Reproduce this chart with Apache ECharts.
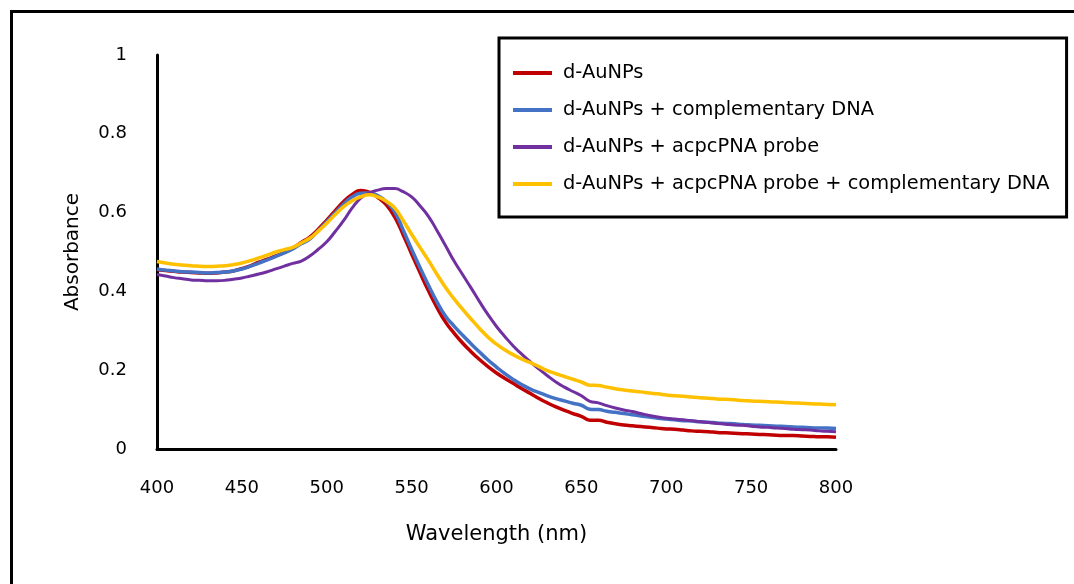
<!DOCTYPE html>
<html>
<head>
<meta charset="utf-8">
<script src="https://cdn.jsdelivr.net/npm/echarts@6/dist/echarts.min.js"></script>
<style>
  html, body { margin: 0; padding: 0; background: #fff; }
  #chart { width: 1074px; height: 584px; }
</style>
</head>
<body>
<div id="chart"></div>
<script>
// UV-Vis absorption spectra of gold nanoparticle samples, sampled every 5 nm from 400 to 800 nm
const wavelengths = [];
for (let w = 400; w <= 800; w += 5) wavelengths.push(w);

const seriesNames = [
  'd-AuNPs',
  'd-AuNPs + complementary DNA',
  'd-AuNPs + acpcPNA probe',
  'd-AuNPs + acpcPNA probe + complementary DNA'
];

const absAuNP = [
  0.455,0.453,0.451,0.449,0.448,0.447,0.446,0.447,0.449,0.452,
  0.458,0.465,0.474,0.482,0.490,0.499,0.510,0.524,0.538,0.558,
  0.581,0.605,0.628,0.646,0.656,0.652,0.639,0.620,0.589,0.544,
  0.495,0.447,0.401,0.359,0.322,0.294,0.269,0.247,0.227,0.209,
  0.193,0.179,0.166,0.153,0.141,0.128,0.117,0.107,0.098,0.090,
  0.083,0.073,0.073,0.068,0.064,0.061,0.059,0.057,0.055,0.053,
  0.051,0.050,0.048,0.046,0.045,0.044,0.042,0.041,0.040,0.039,
  0.038,0.037,0.036,0.035,0.034,0.034,0.033,0.032,0.031,0.031,
  0.030
];

const absAuNPDna = [
  0.457,0.454,0.452,0.450,0.449,0.448,0.447,0.448,0.449,0.452,
  0.457,0.464,0.472,0.480,0.489,0.498,0.508,0.521,0.533,0.554,
  0.577,0.600,0.622,0.640,0.649,0.650,0.643,0.628,0.602,0.556,
  0.507,0.460,0.415,0.373,0.337,0.312,0.289,0.267,0.246,0.226,
  0.208,0.191,0.176,0.163,0.152,0.143,0.135,0.128,0.122,0.116,
  0.111,0.101,0.100,0.096,0.093,0.090,0.087,0.084,0.081,0.078,
  0.076,0.074,0.072,0.071,0.069,0.068,0.066,0.065,0.064,0.062,
  0.061,0.060,0.059,0.058,0.057,0.056,0.055,0.054,0.053,0.053,
  0.052
];

const absAuNPProbe = [
  0.443,0.439,0.435,0.432,0.429,0.428,0.427,0.427,0.428,0.431,
  0.434,0.439,0.444,0.450,0.457,0.464,0.471,0.477,0.490,0.507,
  0.526,0.552,0.580,0.612,0.637,0.650,0.657,0.661,0.661,0.653,
  0.640,0.617,0.590,0.554,0.516,0.477,0.443,0.409,0.374,0.341,
  0.311,0.285,0.261,0.240,0.221,0.203,0.186,0.170,0.157,0.146,
  0.135,0.121,0.117,0.110,0.104,0.099,0.095,0.090,0.085,0.081,
  0.078,0.076,0.074,0.072,0.069,0.067,0.065,0.063,0.061,0.060,
  0.058,0.056,0.055,0.053,0.052,0.050,0.049,0.048,0.046,0.045,
  0.044
];

const absAuNPProbeDna = [
  0.476,0.472,0.469,0.467,0.465,0.464,0.463,0.464,0.465,0.468,
  0.472,0.478,0.485,0.492,0.500,0.506,0.512,0.523,0.535,0.553,
  0.573,0.595,0.615,0.630,0.640,0.645,0.640,0.629,0.612,0.580,
  0.545,0.511,0.478,0.443,0.410,0.381,0.355,0.330,0.306,0.284,
  0.266,0.251,0.239,0.228,0.219,0.209,0.199,0.191,0.184,0.177,
  0.170,0.162,0.161,0.157,0.153,0.150,0.147,0.145,0.142,0.140,
  0.137,0.135,0.134,0.132,0.130,0.129,0.127,0.126,0.125,0.123,
  0.122,0.121,0.120,0.119,0.118,0.117,0.116,0.115,0.114,0.113,
  0.112
];

const seriesValues = [absAuNP, absAuNPDna, absAuNPProbe, absAuNPProbeDna];
const seriesColors = ['#C00000', '#4472C4', '#7030A0', '#FFC000'];
const seriesWidths = [3.5, 3.5, 3, 3.5];

const xTicks = { min: 400, max: 800, interval: 50 };
const yTicks = { min: 0, max: 1, interval: 0.2 };

const FONT = '"DejaVu Sans", Verdana, sans-serif';

const chart = echarts.init(document.getElementById('chart'), null, { renderer: 'canvas' });

chart.setOption({
  animation: false,
  backgroundColor: '#ffffff',
  textStyle: { fontFamily: FONT, color: '#000' },
  graphic: [{
    type: 'rect',
    z: -10,
    shape: { x: 11.5, y: 11.5, width: 1090, height: 620 },
    style: { fill: 'none', stroke: '#000', lineWidth: 3 }
  }],
  grid: { left: 157, right: 238, top: 55, bottom: 135, containLabel: false },
  legend: {
    orient: 'vertical',
    left: 499,
    top: 38,
    padding: [24, 17, 22, 14],
    borderColor: '#000',
    borderWidth: 3,
    backgroundColor: '#fff',
    itemWidth: 39,
    itemHeight: 4,
    itemGap: 15,
    icon: 'rect',
    textStyle: { fontFamily: FONT, fontSize: 19.4, color: '#000', lineHeight: 22, padding: [0, 0, 0, 6] },
    data: seriesNames
  },
  xAxis: {
    type: 'value',
    min: xTicks.min,
    max: xTicks.max,
    interval: xTicks.interval,
    name: 'Wavelength (nm)',
    nameLocation: 'middle',
    nameGap: 75,
    nameTextStyle: { fontFamily: FONT, fontSize: 21, color: '#000' },
    axisLine: { show: true, onZero: false, lineStyle: { color: '#000', width: 3 } },
    axisTick: { show: false },
    splitLine: { show: false },
    axisLabel: { fontFamily: FONT, fontSize: 18, color: '#000', margin: 30 }
  },
  yAxis: {
    type: 'value',
    min: yTicks.min,
    max: yTicks.max,
    interval: yTicks.interval,
    name: 'Absorbance',
    nameLocation: 'middle',
    nameGap: 74,
    nameTextStyle: { fontFamily: FONT, fontSize: 20, color: '#000' },
    axisLine: { show: true, lineStyle: { color: '#000', width: 3 } },
    axisTick: { show: false },
    splitLine: { show: false },
    axisLabel: { fontFamily: FONT, fontSize: 18, color: '#000', margin: 30 }
  },
  series: seriesNames.map((name, i) => ({
    name: name,
    type: 'line',
    data: wavelengths.map((w, j) => [w, seriesValues[i][j]]),
    showSymbol: false,
    smooth: 0.5,
    color: seriesColors[i],
    lineStyle: { color: seriesColors[i], width: seriesWidths[i] },
    itemStyle: { color: seriesColors[i] }
  }))
});
</script>
</body>
</html>
